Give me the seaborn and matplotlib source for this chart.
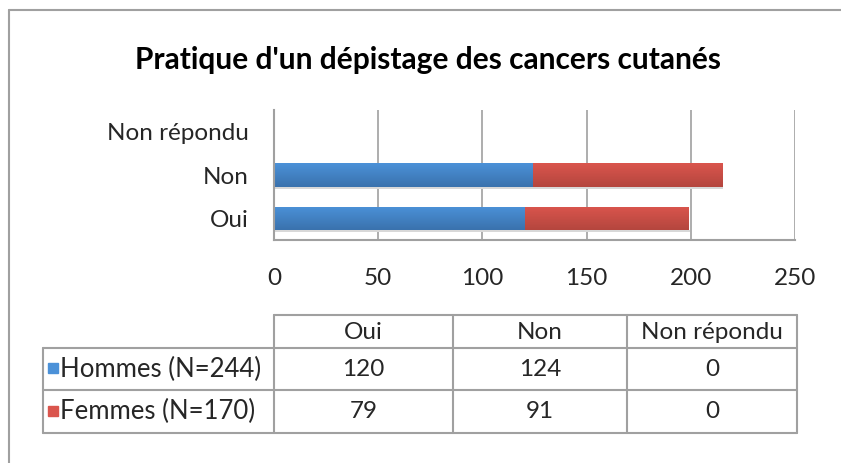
import matplotlib
matplotlib.use("Agg")
import matplotlib.pyplot as plt
import numpy as np
import pandas as pd
import seaborn as sns
from matplotlib.lines import Line2D
from matplotlib.patches import Rectangle
from matplotlib.colors import LinearSegmentedColormap

# Survey answers by sex
reponses = ["Oui", "Non", "Non répondu"]
hommes = [120, 124, 0]
femmes = [79, 91, 0]
series = ["Hommes (N=244)", "Femmes (N=170)"]
ticks = [0, 50, 100, 150, 200, 250]
titre = "Pratique d'un dépistage des cancers cutanés"

BLUE = ("#4b91d8", "#3a72ad")
RED = ("#da554d", "#b4463e")
GRID = "#a0a0a0"
FS = 17.5

sns.set_theme(style="white")
plt.rcParams["font.family"] = ["Lato", "DejaVu Sans"]

W, H = 841, 463
fig = plt.figure(figsize=(W / 100, H / 100), dpi=100)


def px_axes(x0, y0, x1, y1):
    return fig.add_axes([x0 / W, 1 - y1 / H, (x1 - x0) / W, (y1 - y0) / H])


def shade(ax, patches, colors):
    """Give each bar a top-to-bottom gradient and a soft shadow underneath."""
    cmap = LinearSegmentedColormap.from_list("g", list(colors))
    grad = np.linspace(0, 1, 64).reshape(-1, 1)
    for p in patches:
        x0, y0 = p.get_x(), p.get_y()
        w, h = p.get_width(), p.get_height()
        if w <= 0:
            continue
        # y axis is inverted for categorical bars: y0 is the visual top
        im = ax.imshow(grad, cmap=cmap, aspect="auto", origin="upper",
                       extent=(x0, x0 + w, y0 + h, y0), zorder=p.get_zorder(),
                       interpolation="bilinear")
        im.set_clip_path(p)
        ax.add_patch(Rectangle((x0 + 0.6, y0 + h), w, 0.05,
                               color="#d8d8d8", zorder=p.get_zorder() - 0.5,
                               lw=0))


# outer frame of the chart area
fig.add_artist(Line2D([9 / W, 1], [1 - 9.5 / H] * 2, color=GRID, lw=1.5))
fig.add_artist(Line2D([8.5 / W] * 2, [0, 1 - 9.5 / H], color=GRID, lw=1.5))

fig.text(428 / W, 1 - 60 / H, titre, ha="center", va="center",
         fontsize=21.5, fontweight="bold", color="black")

# stacked horizontal bars
ax = px_axes(274, 110, 795, 240)
order = reponses[::-1]
df = pd.DataFrame({"reponse": reponses, "Hommes": hommes,
                   "Total": np.add(hommes, femmes)})
sns.barplot(data=df, y="reponse", x="Total", order=order, color=RED[0],
            orient="h", width=0.54, ax=ax, saturation=1)
n_red = len(ax.patches)
sns.barplot(data=df, y="reponse", x="Hommes", order=order, color=BLUE[0],
            orient="h", width=0.54, ax=ax, saturation=1)
for p in ax.patches:
    p.set_linewidth(0)
red_bars = list(ax.patches[:n_red])
blue_bars = list(ax.patches[n_red:])
shade(ax, red_bars, RED)
shade(ax, blue_bars, BLUE)

ax.set_xlim(0, 250)
ax.set_ylim(2.5, -0.5)
ax.set_xticks(ticks)
ax.set_xticklabels([str(t) for t in ticks], fontsize=FS)
ax.set_xlabel("")
ax.set_ylabel("")
ax.tick_params(axis="x", length=0, pad=20)
ax.tick_params(axis="y", length=0, pad=18, labelsize=FS)
for t in ticks[1:]:
    ax.axvline(t, color=GRID, lw=1.2, zorder=0)
for side in ["top", "right"]:
    ax.spines[side].set_visible(False)
for side in ["left", "bottom"]:
    ax.spines[side].set_color(GRID)
    ax.spines[side].set_linewidth(1.5)

# data table under the chart
cols = [43, 274, 453, 627, 797]
rows = [315, 348, 390, 433]
tab = px_axes(0, 0, W, H)
tab.set_xlim(0, W)
tab.set_ylim(H, 0)
tab.axis("off")
lkw = dict(color=GRID, lw=1.5)
tab.plot([cols[1], cols[-1]], [rows[0], rows[0]], **lkw)
for y in rows[1:]:
    tab.plot([cols[0], cols[-1]], [y, y], **lkw)
tab.plot([cols[0], cols[0]], [rows[1], rows[-1]], **lkw)
for x in cols[1:]:
    tab.plot([x, x], [rows[0], rows[-1]], **lkw)
for j, lab in enumerate(reponses):
    tab.text((cols[j + 1] + cols[j + 2]) / 2, (rows[0] + rows[1]) / 2 + 1, lab,
             ha="center", va="center", fontsize=FS)
for i, (name, vals, c) in enumerate(zip(series, [hommes, femmes], [BLUE, RED])):
    yc = (rows[i + 1] + rows[i + 2]) / 2
    tab.add_patch(Rectangle((48, yc - 6), 10, 10, color=c[0]))
    tab.text(60, yc, name, ha="left", va="center", fontsize=18.5)
    for j, v in enumerate(vals):
        tab.text((cols[j + 1] + cols[j + 2]) / 2, yc, str(v),
                 ha="center", va="center", fontsize=FS)

fig.savefig("out.png", dpi=100)
